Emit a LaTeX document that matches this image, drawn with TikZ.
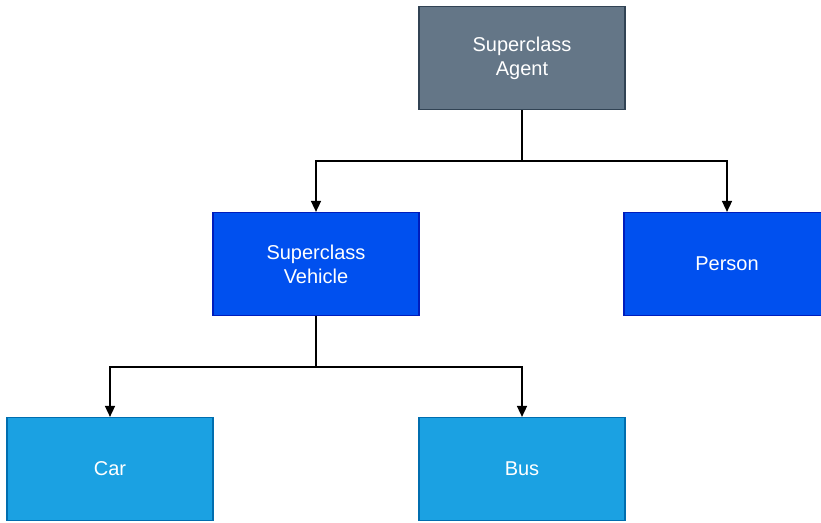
\documentclass[tikz,border=0pt]{standalone}
\usepackage{fontspec}
\setmainfont{Liberation Sans}
\usetikzlibrary{arrows.meta}
\definecolor{agentfill}{HTML}{647687}
\definecolor{agentdraw}{HTML}{314354}
\definecolor{vehfill}{HTML}{0050EF}
\definecolor{vehdraw}{HTML}{001DBC}
\definecolor{leaffill}{HTML}{1BA1E2}
\definecolor{leafdraw}{HTML}{006EAF}
\tikzset{
  box/.style={rectangle, minimum width=206pt, minimum height=103pt, inner sep=0pt, line width=1.2pt,
    text=white, font=\fontsize{20}{24}\selectfont, align=center},
  agentbox/.style={box, fill=agentfill, draw=agentdraw},
  vehbox/.style={box, fill=vehfill, draw=vehdraw},
  leafbox/.style={box, fill=leaffill, draw=leafdraw},
  conn/.style={line width=1.6pt, -{Triangle[length=11pt,width=10pt]}},
}
\begin{document}
\begin{tikzpicture}[x=1pt,y=-1pt]
\useasboundingbox (0,0) rectangle (821,522);
\node[agentbox] (agent) at (522,58) {Superclass\\Agent};
\node[vehbox] (vehicle) at (316,264) {Superclass\\Vehicle};
\node[vehbox] (person) at (727,264) {Person};
\node[leafbox] (car) at (110,469) {Car};
\node[leafbox] (bus) at (522,469) {Bus};
\draw[conn] (agent.south) -- ++(0,51) -| (vehicle.north);
\draw[conn] (agent.south) -- ++(0,51) -| (person.north);
\draw[conn] (vehicle.south) -- ++(0,51) -| (car.north);
\draw[conn] (vehicle.south) -- ++(0,51) -| (bus.north);
\end{tikzpicture}
\end{document}
